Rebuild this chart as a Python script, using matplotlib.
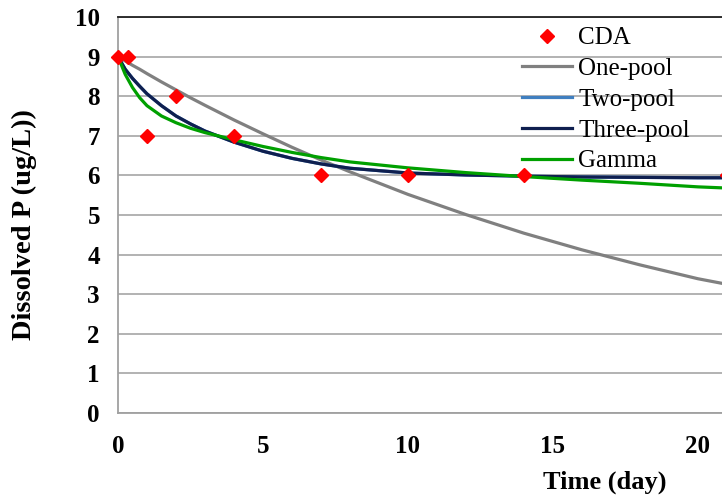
import matplotlib
matplotlib.use("Agg")
import matplotlib.pyplot as plt

# measured dissolved P (CDA) and fitted pool models
cda_t = [0, 0.33, 1, 2, 4, 7, 10, 14, 21]
cda_p = [9, 9, 7, 8, 7, 6, 6, 6, 6]

model_t = [0, 0.25, 0.5, 0.75, 1, 1.5, 2, 2.5, 3, 4, 5, 6, 7, 8, 10, 12, 14, 16, 18, 20, 21]
one_pool = [9.00, 8.89, 8.78, 8.68, 8.57, 8.36, 8.16, 7.96, 7.77, 7.40, 7.05,
            6.71, 6.39, 6.09, 5.52, 5.01, 4.54, 4.12, 3.74, 3.39, 3.25]
two_pool = [9.00, 8.68, 8.45, 8.25, 8.06, 7.76, 7.50, 7.30, 7.12, 6.84, 6.61,
            6.43, 6.29, 6.18, 6.06, 6.01, 5.98, 5.96, 5.95, 5.94, 5.94]
three_pool = [9.00, 8.68, 8.45, 8.25, 8.06, 7.76, 7.50, 7.30, 7.12, 6.84, 6.61,
              6.43, 6.29, 6.18, 6.06, 6.01, 5.98, 5.96, 5.95, 5.94, 5.94]
gamma = [9.00, 8.55, 8.22, 7.96, 7.76, 7.50, 7.33, 7.19, 7.08, 6.90, 6.73,
         6.58, 6.45, 6.34, 6.19, 6.07, 5.97, 5.88, 5.80, 5.71, 5.68]

plt.rcParams["font.family"] = ["Liberation Serif", "DejaVu Serif"]

fig = plt.figure(figsize=(7.22, 5.04), dpi=100)
ax = fig.add_axes([0.1634, 0.1806, 0.8366, 0.7857])

ax.plot(model_t, one_pool, color="#808080", lw=2.3, label="One-pool")
ax.plot(model_t, two_pool, color="#3f7fc0", lw=2.3, label="Two-pool")
ax.plot(model_t, three_pool, color="#0f1f4f", lw=2.3, label="Three-pool")
ax.plot(model_t, gamma, color="#00a000", lw=2.3, label="Gamma")
ax.plot(cda_t, cda_p, ls="none", marker="D", ms=7.5, color="#ff0000",
        label="CDA", zorder=5, clip_on=False)

ax.set_xlim(0, 20.83)
ax.set_ylim(0, 10)
ax.set_xticks([0, 5, 10, 15, 20])
ax.set_yticks(range(0, 11))
ax.grid(True, axis="y", color="#a6a6a6", lw=1.2)
ax.set_axisbelow(True)
ax.tick_params(length=0, labelsize=18)
ax.tick_params(axis="x", pad=16)
ax.tick_params(axis="y", pad=13)
for lab in ax.get_xticklabels() + ax.get_yticklabels():
    lab.set_fontweight("bold")

for side in ("left", "bottom"):
    ax.spines[side].set_color("#a0a0a0")
    ax.spines[side].set_linewidth(1.3)
ax.spines["top"].set_color("#202020")
ax.spines["top"].set_linewidth(1.3)
ax.spines["right"].set_visible(False)

ax.set_xlabel("Time (day)", fontsize=19, fontweight="bold")
ax.xaxis.set_label_coords(0.806, -0.145)
ax.set_ylabel("Dissolved P (ug/L))", fontsize=20.5, fontweight="bold")
ax.yaxis.set_label_coords(-0.134, 0.475)

handles, labels = ax.get_legend_handles_labels()
order = [4, 0, 1, 2, 3]
ax.legend([handles[i] for i in order], [labels[i] for i in order],
          loc="upper left", bbox_to_anchor=(0.669, 0.975), frameon=False,
          fontsize=18, handlelength=2.0, handletextpad=0.25,
          labelspacing=0.33, borderpad=0, borderaxespad=0, numpoints=1)

fig.savefig("out.png", dpi=100)
